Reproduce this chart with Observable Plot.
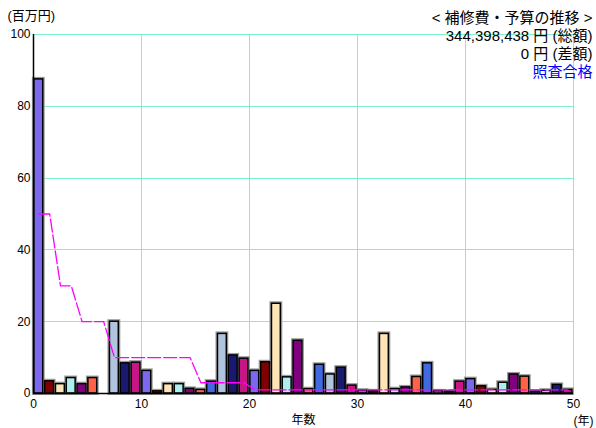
<!DOCTYPE html>
<html>
<head>
<meta charset="utf-8">
<script src="https://cdn.jsdelivr.net/npm/d3@7"></script>
<script src="https://cdn.jsdelivr.net/npm/@observablehq/plot@0.6"></script>
<style>
  html, body { margin: 0; padding: 0; background: #fff; }
  #chart svg { display: block; }
</style>
</head>
<body>
<div id="chart"></div>
<script>
// ---- data ----
const years = [0,1,2,3,4,5,6,7,8,9,10,11,12,13,14,15,16,17,18,19,20,21,22,23,24,25,26,27,28,29,30,31,32,33,34,35,36,37,38,39,40,41,42,43,44,45,46,47,48,49];
// 補修費 (百万円)
const repair = [87.5,3.4,2.6,4.3,2.6,4.3,0,20.0,8.4,8.6,6.3,0.6,2.6,2.6,1.3,1.0,3.3,16.6,10.6,9.7,6.3,8.7,25.0,4.5,14.7,1.2,8.0,5.3,7.2,2.2,0.8,0.6,16.6,1.2,1.7,4.6,8.4,0.6,0.5,3.3,4.0,2.0,1.0,3.0,5.3,4.7,0.5,0.8,2.4,1.0];
// 予算 (百万円)
const budget = [50,50,30,30,20,20,20,10,10,10,10,10,10,10,10,3,3,3,3,3,1,1,1,1,1,1,1,1,1,1,1,1,1,1,1,1,1,1,1,1,1,1,1,1,1,1,1,1,1,1];
const palette = ["#7b68ee","#800000","#ffe4b5","#afeeee","#800080","#ff6347","#4169e1","#b0c4de","#191970","#c71585"];
const xTicks = [0,10,20,30,40,50];
const yTicks = [0,20,40,60,80,100];
const titleLines = ["< 補修費・予算の推移 >", "344,398,438 円 (総額)", "0 円 (差額)"];
const statusText = "照査合格";

// ---- tables ----
const bars = years.map((yr, i) => ({x1: yr + 0.08, x2: yr + 0.9, value: repair[i], color: palette[i % palette.length]}))
  .filter(d => d.value > 0);
const line = years.map((yr, i) => ({x: yr + 0.5, y: budget[i]}));

const gridColor = "#7ff0d0";
const font = "'Liberation Sans', 'Noto Sans CJK JP', sans-serif";

const titleMarks = titleLines.map((t, i) =>
  Plot.text([t], {frameAnchor: "top-right", textAnchor: "end", lineAnchor: "middle", dx: 19, dy: -16 + i * 18, fontSize: 15, fill: "#000"}));

const chart = Plot.plot({
  width: 596,
  height: 428,
  marginLeft: 33,
  marginRight: 23,
  marginTop: 34,
  marginBottom: 35,
  style: {fontFamily: font, fontSize: "12px", color: "#000", background: "#fff"},
  x: {domain: [0, 50]},
  y: {domain: [0, 100]},
  marks: [
    Plot.ruleX(xTicks, {stroke: gridColor, strokeOpacity: 1, strokeWidth: 1, shapeRendering: "crispEdges"}),
    Plot.ruleY(yTicks, {stroke: gridColor, strokeOpacity: 1, strokeWidth: 1, shapeRendering: "crispEdges"}),
    Plot.rectY(bars, {x1: "x1", x2: "x2", y1: 0, y2: "value", fill: "none", stroke: "#9a9a9a", strokeWidth: 4}),
    Plot.rectY(bars, {x1: "x1", x2: "x2", y1: 0, y2: "value", fill: "color", stroke: "#000", strokeWidth: 1.5}),
    Plot.line(line, {x: "x", y: "y", stroke: "#ff00ff", strokeWidth: 1.3, strokeDasharray: "13,3"}),
    Plot.ruleX([0], {stroke: "#000", strokeWidth: 1.5}),
    Plot.ruleY([0], {stroke: "#000", strokeWidth: 1.5}),
    Plot.axisX(xTicks, {tickSize: 0, tickPadding: 6, fontSize: 12, label: null}),
    Plot.axisY(yTicks, {tickSize: 0, tickPadding: 3, fontSize: 12, label: null}),
    Plot.text(["年数"], {frameAnchor: "bottom", lineAnchor: "middle", dy: 27, fontSize: 12}),
    Plot.text(["(年)"], {frameAnchor: "bottom-right", textAnchor: "end", lineAnchor: "middle", dx: 20, dy: 28, fontSize: 12}),
    Plot.text(["(百万円)"], {frameAnchor: "top-left", textAnchor: "start", lineAnchor: "middle", dx: -26, dy: -19, fontSize: 13}),
    ...titleMarks,
    Plot.text([statusText], {frameAnchor: "top-right", textAnchor: "end", lineAnchor: "middle", dx: 19, dy: 38, fontSize: 15, fill: "#0000ff", style: {letterSpacing: "1px"}})
  ]
});
document.getElementById("chart").appendChild(chart);
</script>
</body>
</html>
